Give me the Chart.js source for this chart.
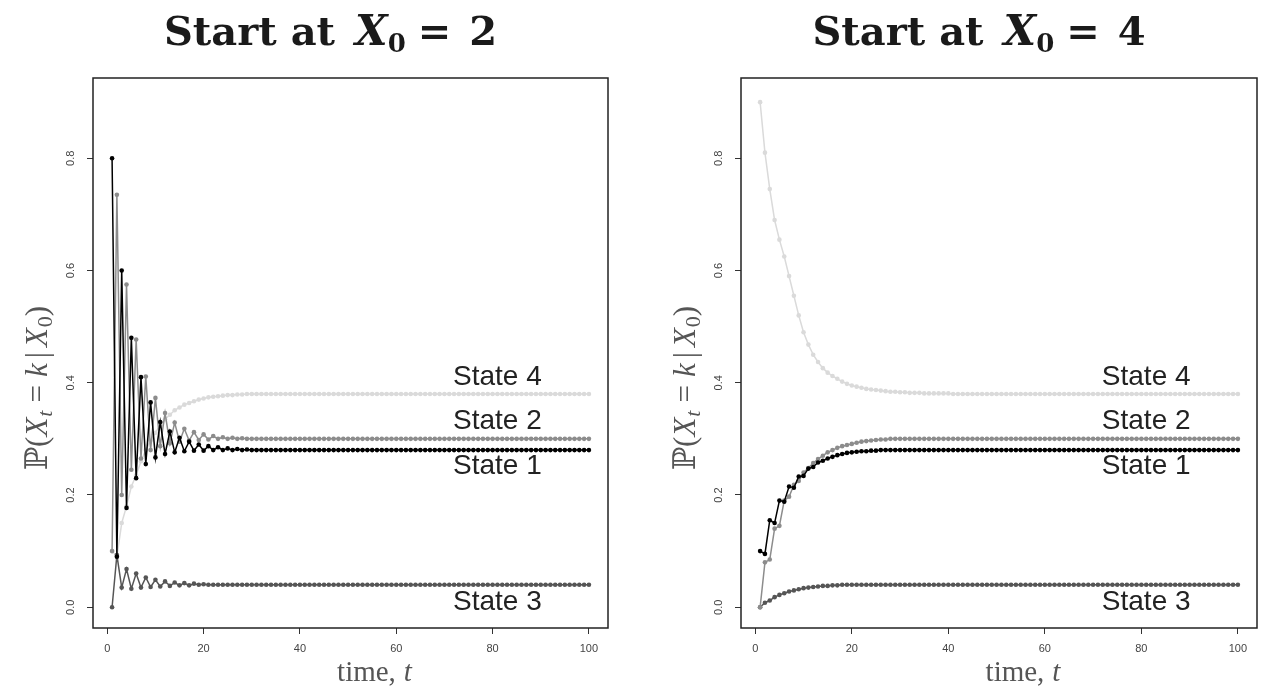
<!DOCTYPE html>
<html>
<head>
<meta charset="utf-8">
<script src="https://cdn.jsdelivr.net/npm/chart.js@4.4.1/dist/chart.umd.min.js"></script>
<style>
  body { margin: 0; background: #fff; }
  #wrap { position: relative; width: 1261px; height: 689px; }
  canvas { position: absolute; top: 0; }
</style>
</head>
<body>
<div id="wrap">
  <canvas id="leftChart" width="630" height="689" style="left:0"></canvas>
  <canvas id="rightChart" width="631" height="689" style="left:630px"></canvas>
</div>
<script>
// tempi t = 1..100
const time = Array.from({length: 100}, (_, i) => i + 1);
const xTicks = [0, 20, 40, 60, 80, 100];
const yTicks = [0, 0.2, 0.4, 0.6, 0.8];
const stateNames = ["State 1", "State 2", "State 3", "State 4"];
const stateColors = ["#000000", "#8c8c8c", "#555555", "#dadada"];
// dove stanno le scritte "State k" (t, probabilita')
const labelT = 81;
const labelY = [0.252, 0.332, 0.009, 0.409];

// partenza da X0 = 2
const s1Left = [
  0.80, 0.09, 0.60, 0.177, 0.48, 0.23, 0.41, 0.255, 0.365, 0.267,
  0.33, 0.273, 0.313, 0.276, 0.302, 0.278, 0.295, 0.279, 0.290, 0.279,
  0.287, 0.28, 0.285, 0.28, 0.283, 0.28, 0.282, 0.28, 0.281, 0.28,
  0.28, 0.28, 0.28, 0.28, 0.28, 0.28, 0.28, 0.28, 0.28, 0.28,
  0.28, 0.28, 0.28, 0.28, 0.28, 0.28, 0.28, 0.28, 0.28, 0.28,
  0.28, 0.28, 0.28, 0.28, 0.28, 0.28, 0.28, 0.28, 0.28, 0.28,
  0.28, 0.28, 0.28, 0.28, 0.28, 0.28, 0.28, 0.28, 0.28, 0.28,
  0.28, 0.28, 0.28, 0.28, 0.28, 0.28, 0.28, 0.28, 0.28, 0.28,
  0.28, 0.28, 0.28, 0.28, 0.28, 0.28, 0.28, 0.28, 0.28, 0.28,
  0.28, 0.28, 0.28, 0.28, 0.28, 0.28, 0.28, 0.28, 0.28, 0.28
];
const s2Left = [
  0.10, 0.735, 0.20, 0.575, 0.245, 0.477, 0.265, 0.411, 0.28, 0.373,
  0.287, 0.346, 0.292, 0.329, 0.295, 0.318, 0.297, 0.312, 0.298, 0.308,
  0.299, 0.305, 0.30, 0.303, 0.30, 0.302, 0.30, 0.301, 0.30, 0.30,
  0.30, 0.30, 0.30, 0.30, 0.30, 0.30, 0.30, 0.30, 0.30, 0.30,
  0.30, 0.30, 0.30, 0.30, 0.30, 0.30, 0.30, 0.30, 0.30, 0.30,
  0.30, 0.30, 0.30, 0.30, 0.30, 0.30, 0.30, 0.30, 0.30, 0.30,
  0.30, 0.30, 0.30, 0.30, 0.30, 0.30, 0.30, 0.30, 0.30, 0.30,
  0.30, 0.30, 0.30, 0.30, 0.30, 0.30, 0.30, 0.30, 0.30, 0.30,
  0.30, 0.30, 0.30, 0.30, 0.30, 0.30, 0.30, 0.30, 0.30, 0.30,
  0.30, 0.30, 0.30, 0.30, 0.30, 0.30, 0.30, 0.30, 0.30, 0.30
];
const s3Left = [
  0.0, 0.093, 0.035, 0.068, 0.033, 0.06, 0.035, 0.053, 0.036, 0.049,
  0.037, 0.046, 0.038, 0.044, 0.039, 0.043, 0.039, 0.042, 0.04, 0.041,
  0.04, 0.04, 0.04, 0.04, 0.04, 0.04, 0.04, 0.04, 0.04, 0.04,
  0.04, 0.04, 0.04, 0.04, 0.04, 0.04, 0.04, 0.04, 0.04, 0.04,
  0.04, 0.04, 0.04, 0.04, 0.04, 0.04, 0.04, 0.04, 0.04, 0.04,
  0.04, 0.04, 0.04, 0.04, 0.04, 0.04, 0.04, 0.04, 0.04, 0.04,
  0.04, 0.04, 0.04, 0.04, 0.04, 0.04, 0.04, 0.04, 0.04, 0.04,
  0.04, 0.04, 0.04, 0.04, 0.04, 0.04, 0.04, 0.04, 0.04, 0.04,
  0.04, 0.04, 0.04, 0.04, 0.04, 0.04, 0.04, 0.04, 0.04, 0.04,
  0.04, 0.04, 0.04, 0.04, 0.04, 0.04, 0.04, 0.04, 0.04, 0.04
];
const s4Left = [
  0.10, 0.09, 0.15, 0.18, 0.215, 0.235, 0.26, 0.28, 0.297, 0.311,
  0.324, 0.335, 0.343, 0.351, 0.356, 0.361, 0.364, 0.367, 0.37, 0.372,
  0.374, 0.375, 0.376, 0.377, 0.378, 0.378, 0.379, 0.379, 0.38, 0.38,
  0.38, 0.38, 0.38, 0.38, 0.38, 0.38, 0.38, 0.38, 0.38, 0.38,
  0.38, 0.38, 0.38, 0.38, 0.38, 0.38, 0.38, 0.38, 0.38, 0.38,
  0.38, 0.38, 0.38, 0.38, 0.38, 0.38, 0.38, 0.38, 0.38, 0.38,
  0.38, 0.38, 0.38, 0.38, 0.38, 0.38, 0.38, 0.38, 0.38, 0.38,
  0.38, 0.38, 0.38, 0.38, 0.38, 0.38, 0.38, 0.38, 0.38, 0.38,
  0.38, 0.38, 0.38, 0.38, 0.38, 0.38, 0.38, 0.38, 0.38, 0.38,
  0.38, 0.38, 0.38, 0.38, 0.38, 0.38, 0.38, 0.38, 0.38, 0.38
];

// partenza da X0 = 4
const s1Right = [
  0.10, 0.095, 0.155, 0.15, 0.19, 0.188, 0.215, 0.213, 0.233, 0.234,
  0.247, 0.25, 0.258, 0.261, 0.265, 0.268, 0.271, 0.273, 0.275, 0.276,
  0.277, 0.278, 0.278, 0.279, 0.279, 0.28, 0.28, 0.28, 0.28, 0.28,
  0.28, 0.28, 0.28, 0.28, 0.28, 0.28, 0.28, 0.28, 0.28, 0.28,
  0.28, 0.28, 0.28, 0.28, 0.28, 0.28, 0.28, 0.28, 0.28, 0.28,
  0.28, 0.28, 0.28, 0.28, 0.28, 0.28, 0.28, 0.28, 0.28, 0.28,
  0.28, 0.28, 0.28, 0.28, 0.28, 0.28, 0.28, 0.28, 0.28, 0.28,
  0.28, 0.28, 0.28, 0.28, 0.28, 0.28, 0.28, 0.28, 0.28, 0.28,
  0.28, 0.28, 0.28, 0.28, 0.28, 0.28, 0.28, 0.28, 0.28, 0.28,
  0.28, 0.28, 0.28, 0.28, 0.28, 0.28, 0.28, 0.28, 0.28, 0.28
];
const s2Right = [
  0.0, 0.08, 0.085, 0.14, 0.145, 0.19, 0.197, 0.218, 0.225, 0.24,
  0.248, 0.257, 0.264, 0.27, 0.276, 0.28, 0.284, 0.287, 0.289, 0.291,
  0.293, 0.295, 0.296, 0.297, 0.298, 0.299, 0.299, 0.30, 0.30, 0.30,
  0.30, 0.30, 0.30, 0.30, 0.30, 0.30, 0.30, 0.30, 0.30, 0.30,
  0.30, 0.30, 0.30, 0.30, 0.30, 0.30, 0.30, 0.30, 0.30, 0.30,
  0.30, 0.30, 0.30, 0.30, 0.30, 0.30, 0.30, 0.30, 0.30, 0.30,
  0.30, 0.30, 0.30, 0.30, 0.30, 0.30, 0.30, 0.30, 0.30, 0.30,
  0.30, 0.30, 0.30, 0.30, 0.30, 0.30, 0.30, 0.30, 0.30, 0.30,
  0.30, 0.30, 0.30, 0.30, 0.30, 0.30, 0.30, 0.30, 0.30, 0.30,
  0.30, 0.30, 0.30, 0.30, 0.30, 0.30, 0.30, 0.30, 0.30, 0.30
];
const s3Right = [
  0.0, 0.008, 0.012, 0.018, 0.022, 0.025, 0.028, 0.03, 0.032, 0.034,
  0.035, 0.036, 0.037, 0.038, 0.038, 0.039, 0.039, 0.04, 0.04, 0.04,
  0.04, 0.04, 0.04, 0.04, 0.04, 0.04, 0.04, 0.04, 0.04, 0.04,
  0.04, 0.04, 0.04, 0.04, 0.04, 0.04, 0.04, 0.04, 0.04, 0.04,
  0.04, 0.04, 0.04, 0.04, 0.04, 0.04, 0.04, 0.04, 0.04, 0.04,
  0.04, 0.04, 0.04, 0.04, 0.04, 0.04, 0.04, 0.04, 0.04, 0.04,
  0.04, 0.04, 0.04, 0.04, 0.04, 0.04, 0.04, 0.04, 0.04, 0.04,
  0.04, 0.04, 0.04, 0.04, 0.04, 0.04, 0.04, 0.04, 0.04, 0.04,
  0.04, 0.04, 0.04, 0.04, 0.04, 0.04, 0.04, 0.04, 0.04, 0.04,
  0.04, 0.04, 0.04, 0.04, 0.04, 0.04, 0.04, 0.04, 0.04, 0.04
];
const s4Right = [
  0.90, 0.81, 0.745, 0.69, 0.655, 0.625, 0.59, 0.555, 0.52, 0.49,
  0.468, 0.45, 0.437, 0.426, 0.418, 0.412, 0.407, 0.402, 0.398, 0.395,
  0.393, 0.391, 0.389, 0.388, 0.387, 0.386, 0.385, 0.384, 0.384, 0.383,
  0.383, 0.382, 0.382, 0.382, 0.381, 0.381, 0.381, 0.381, 0.381, 0.381,
  0.38, 0.38, 0.38, 0.38, 0.38, 0.38, 0.38, 0.38, 0.38, 0.38,
  0.38, 0.38, 0.38, 0.38, 0.38, 0.38, 0.38, 0.38, 0.38, 0.38,
  0.38, 0.38, 0.38, 0.38, 0.38, 0.38, 0.38, 0.38, 0.38, 0.38,
  0.38, 0.38, 0.38, 0.38, 0.38, 0.38, 0.38, 0.38, 0.38, 0.38,
  0.38, 0.38, 0.38, 0.38, 0.38, 0.38, 0.38, 0.38, 0.38, 0.38,
  0.38, 0.38, 0.38, 0.38, 0.38, 0.38, 0.38, 0.38, 0.38, 0.38
];

const SERIF = '"Liberation Serif", "DejaVu Serif", serif';
const TSERIF = '"DejaVu Serif", serif';

// scrive un testo fatto di pezzi con font diversi, centrato in cx
function drawPieces(ctx, pieces, cx, y) {
  let w = 0;
  pieces.forEach(p => {
    ctx.font = p.font;
    p.w = ctx.measureText(p.text).width + (p.gap || 0);
    w += p.w;
  });
  let x = cx - w / 2;
  ctx.textAlign = 'left';
  ctx.textBaseline = 'alphabetic';
  pieces.forEach(p => {
    ctx.font = p.font;
    ctx.fillText(p.text, x, y + (p.dy || 0));
    x += p.w;
  });
}

// plugin: cornice, titolo, titoli degli assi e scritte degli stati
const decorPlugin = {
  id: 'decor',
  afterDraw(chart, args, opts) {
    const ctx = chart.ctx;
    const a = chart.chartArea;
    const sx = chart.scales.x, sy = chart.scales.y;
    const mid = (a.left + a.right) / 2;
    ctx.save();

    ctx.strokeStyle = '#222';
    ctx.lineWidth = 1.5;
    ctx.strokeRect(a.left, a.top, a.right - a.left, a.bottom - a.top);

    ctx.fillStyle = '#222';
    ctx.font = '28px "Liberation Sans", Arial, sans-serif';
    ctx.textAlign = 'center';
    ctx.textBaseline = 'middle';
    stateNames.forEach((name, i) => {
      ctx.fillText(name, sx.getPixelForValue(labelT), sy.getPixelForValue(labelY[i]));
    });

    // titolo "Start at X0 = k"
    ctx.fillStyle = '#1a1a1a';
    drawPieces(ctx, [
      {text: 'Start at', font: 'bold 40px ' + TSERIF, gap: 20},
      {text: 'X', font: 'bold italic 42px ' + TSERIF},
      {text: '0', font: 'bold 26px ' + TSERIF, dy: 7, gap: 12},
      {text: '=', font: 'bold 40px ' + TSERIF, gap: 18},
      {text: opts.start, font: 'bold 40px ' + TSERIF}
    ], mid - 20, 45);

    // asse x
    ctx.fillStyle = '#555';
    drawPieces(ctx, [
      {text: 'time,', font: '29px ' + SERIF, gap: 8},
      {text: 't', font: 'italic 29px ' + SERIF}
    ], mid + 24, 681);

    // asse y (ruotato)
    ctx.translate(a.left - 46, (a.top + a.bottom) / 2 + 35);
    ctx.rotate(-Math.PI / 2);
    drawPieces(ctx, [
      {text: '\u2119', font: '31px "DejaVu Serif"'},
      {text: '(', font: '31px ' + SERIF},
      {text: 'X', font: 'italic 31px ' + SERIF, gap: 1},
      {text: 't', font: 'italic 22px ' + SERIF, dy: 5, gap: 8},
      {text: '=', font: '31px ' + SERIF, gap: 8},
      {text: 'k', font: 'italic 31px ' + SERIF, gap: 5},
      {text: '|', font: '31px ' + SERIF, gap: 5},
      {text: 'X', font: 'italic 31px ' + SERIF, gap: 1},
      {text: '0', font: '22px ' + SERIF, dy: 5},
      {text: ')', font: '31px ' + SERIF}
    ], 0, 0);

    ctx.restore();
  }
};

function makeDatasets(series) {
  return series.map((s, i) => ({
    label: stateNames[i],
    data: s,
    borderColor: stateColors[i],
    backgroundColor: stateColors[i],
    borderWidth: 1.5,
    pointRadius: 2.3,
    pointBorderWidth: 0,
    pointBackgroundColor: stateColors[i],
    tension: 0
  }));
}

function makeChart(canvasId, series, start, yWidth, padRight) {
  const config = {
    type: 'line',
    data: {
      labels: time,
      datasets: makeDatasets(series)
    },
    options: {
      responsive: false,
      animation: false,
      devicePixelRatio: 1,
      layout: { padding: { top: 78, right: padRight, left: 0, bottom: 0 } },
      plugins: {
        legend: { display: false },
        tooltip: { enabled: false },
        decor: { start: start }
      },
      scales: {
        x: {
          type: 'linear',
          min: -2.96,
          max: 103.96,
          afterBuildTicks: scale => { scale.ticks = xTicks.map(v => ({value: v})); },
          afterFit: scale => { scale.height = 61; },
          grid: { drawOnChartArea: false, drawTicks: true, tickLength: 6, color: '#333' },
          border: { display: false },
          ticks: {
            padding: 8,
            color: '#444',
            font: { family: '"Liberation Sans", Arial, sans-serif', size: 11 },
            callback: v => String(v)
          }
        },
        y: {
          type: 'linear',
          min: -0.037,
          max: 0.943,
          afterBuildTicks: scale => { scale.ticks = yTicks.map(v => ({value: v})); },
          afterFit: scale => { scale.width = yWidth; },
          grid: { drawOnChartArea: false, drawTicks: true, tickLength: 6, color: '#333' },
          border: { display: false },
          ticks: {
            padding: 8,
            minRotation: 90,
            maxRotation: 90,
            crossAlign: 'center',
            color: '#444',
            font: { family: '"Liberation Sans", Arial, sans-serif', size: 11 },
            callback: v => v.toFixed(1)
          }
        }
      }
    },
    plugins: [decorPlugin]
  };
  return new Chart(document.getElementById(canvasId), config);
}

makeChart('leftChart', [s1Left, s2Left, s3Left, s4Left], '2', 93, 22);
makeChart('rightChart', [s1Right, s2Right, s3Right, s4Right], '4', 111, 4);
</script>
</body>
</html>
